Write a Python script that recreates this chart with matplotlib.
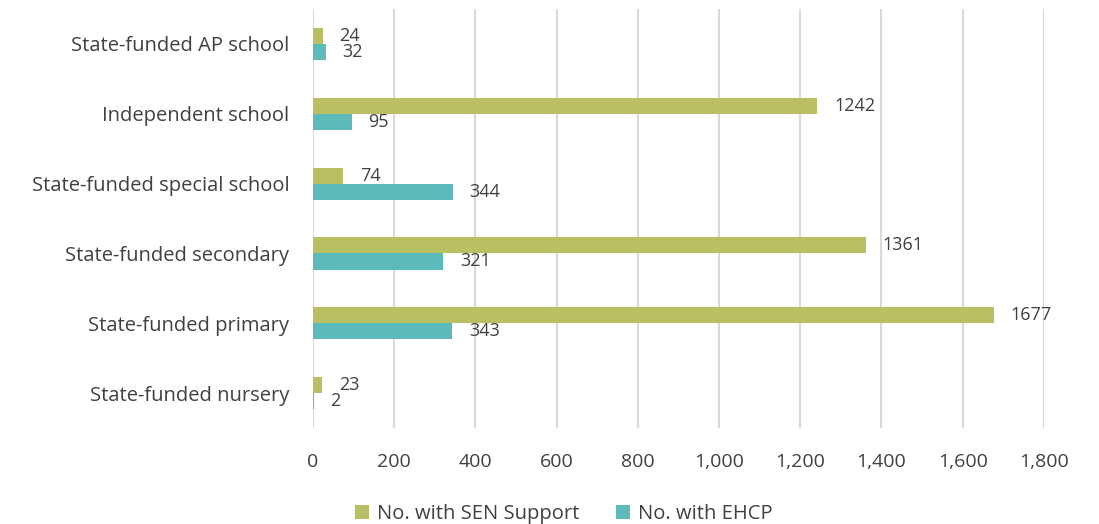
import matplotlib
matplotlib.use("Agg")
import matplotlib.pyplot as plt
import numpy as np

categories = ["State-funded nursery", "State-funded primary", "State-funded secondary",
              "State-funded special school", "Independent school", "State-funded AP school"]
sen_support = [23, 1677, 1361, 74, 1242, 24]
ehcp = [2, 343, 321, 344, 95, 32]
xticks = [0, 200, 400, 600, 800, 1000, 1200, 1400, 1600, 1800]

plt.rcParams['font.family'] = ['Open Sans', 'DejaVu Sans']
txt = '#404040'
green = '#BBBF63'
teal = '#5BBABA'

fig = plt.figure(figsize=(10.99, 5.24), dpi=100)
ax = fig.add_axes([0.2848, 0.183, 0.665, 0.800])

y = np.arange(len(categories))
h = 0.23
b1 = ax.barh(y + h/2, sen_support, height=h, color=green, label='No. with SEN Support')
b2 = ax.barh(y - h/2, ehcp, height=h, color=teal, label='No. with EHCP')

for rect, v in zip(b1, sen_support):
    ax.annotate(str(v), (rect.get_width(), rect.get_y() + rect.get_height()/2),
                xytext=(12, 0), textcoords='offset points', va='center', ha='left',
                fontsize=13, color=txt)
for rect, v in zip(b2, ehcp):
    ax.annotate(str(v), (rect.get_width(), rect.get_y() + rect.get_height()/2),
                xytext=(12, 0), textcoords='offset points', va='center', ha='left',
                fontsize=13, color=txt)

ax.set_xlim(0, 1800)
ax.set_ylim(-0.5, len(categories) - 0.5)
ax.set_xticks(xticks)
ax.set_xticklabels([f"{t:,}" for t in xticks], fontsize=14, color=txt)
ax.set_yticks(y)
ax.set_yticklabels(categories, fontsize=14.5, color=txt)
ax.tick_params(axis='both', length=0)
ax.tick_params(axis='x', pad=18)
ax.tick_params(axis='y', pad=17)
ax.xaxis.grid(True, color='#D9D9D9', linewidth=1.5)
ax.set_axisbelow(True)
for s in ax.spines.values():
    s.set_visible(False)

fig.legend(handles=[b1, b2], loc='lower center', bbox_to_anchor=(0.513, -0.034), ncol=2,
           frameon=False, fontsize=14.5, handlelength=0.7, handleheight=0.7,
           columnspacing=1.8, handletextpad=0.4, labelcolor=txt)

fig.savefig('out.png', dpi=100)
